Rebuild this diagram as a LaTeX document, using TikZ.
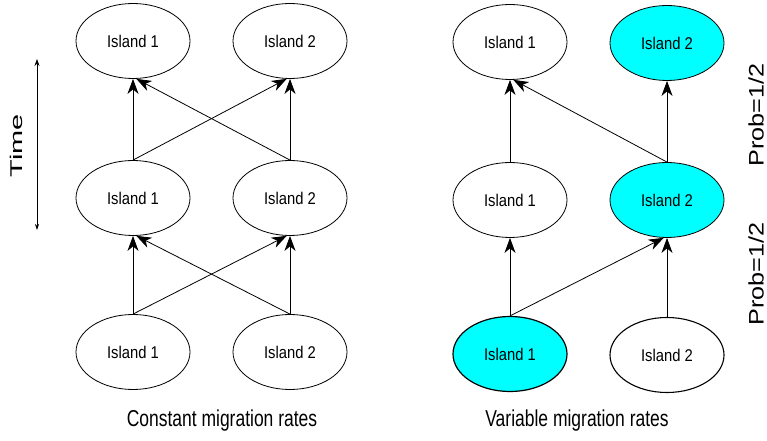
\documentclass[tikz,border=0pt]{standalone}
\usepackage{fontspec}
\setmainfont{Liberation Sans}
\usetikzlibrary{shapes.geometric,arrows.meta}
\definecolor{isl}{RGB}{0,255,255}
\tikzset{
  island/.style={ellipse, draw, line width=0.8bp, minimum width=114bp, minimum height=75bp, inner sep=0pt,
    font=\fontsize{17bp}{19bp}\selectfont},
  hot/.style={island, fill=isl},
  mig/.style={line width=0.8bp, -{Stealth[length=15bp,width=11bp,inset=4.5bp]}},
  caption/.style={font=\fontsize{23bp}{25bp}\selectfont},
  side/.style={font=\fontsize{21bp}{23bp}\selectfont, rotate=90},
}
\newcommand{\isl}[1]{\scalebox{0.87}[1]{Island #1}}
\begin{document}
\begin{tikzpicture}[x=1bp,y=-1bp]
\useasboundingbox (0,0) rectangle (767,441);
% left panel
\node[island] (lt1) at (133,41) {\isl{1}};
\node[island] (lt2) at (290,41) {\isl{2}};
\node[island] (lm1) at (133,198) {\isl{1}};
\node[island] (lm2) at (290,198) {\isl{2}};
\node[island] (lb1) at (133,352) {\isl{1}};
\node[island] (lb2) at (290,352) {\isl{2}};
\draw[mig] (lm1.north) -- (lt1.south);
\draw[mig] (lm1.north) -- (lt2.-95);
\draw[mig] (lm2.north) -- (lt2.south);
\draw[mig] (lm2.north) -- (lt1.-85);
\draw[mig] (lb1.north) -- (lm1.south);
\draw[mig] (lb1.north) -- (lm2.-95);
\draw[mig] (lb2.north) -- (lm2.south);
\draw[mig] (lb2.north) -- (lm1.-85);
\node[caption] (c1) at (222,421) {\scalebox{0.76}[1]{Constant migration rates}};
% time arrow
\coordinate (ta) at (37,230);
\coordinate (tb) at (37,59);
\draw[line width=0.7bp, {Stealth[length=6bp,width=4bp]}-{Stealth[length=7bp,width=5bp]}] (ta) -- (tb);
\node[font=\fontsize{17bp}{19bp}\selectfont, rotate=90] (time) at (16,146) {\scalebox{1.7}[1]{Time}};
% right panel
\node[island] (rt1) at (510,42) {\isl{1}};
\node[hot] (rt2) at (667,43) {\isl{2}};
\node[island] (rm1) at (510,200) {\isl{1}};
\node[hot] (rm2) at (667,200) {\isl{2}};
\node[hot, line width=1.2bp] (rb1) at (510,354) {\isl{1}};
\node[island, line width=1.1bp] (rb2) at (667,355) {\isl{2}};
\draw[mig] (rm1.north) -- (rt1.south);
\draw[mig] (rm2.north) -- (rt2.south);
\draw[mig] (rm2.north) -- (rt1.-85);
\draw[mig] (rb1.north) -- (rm1.south);
\draw[mig] (rb1.north) -- (rm2.-95);
\draw[mig] (rb2.north) -- (rm2.south);
\node[caption] (c2) at (577,421) {\scalebox{0.76}[1]{Variable migration rates}};
\node[side] (p1) at (756,115) {\scalebox{1.2}[1]{Prob=1/2}};
\node[side] (p2) at (756,274) {\scalebox{1.2}[1]{Prob=1/2}};
\end{tikzpicture}
\end{document}
